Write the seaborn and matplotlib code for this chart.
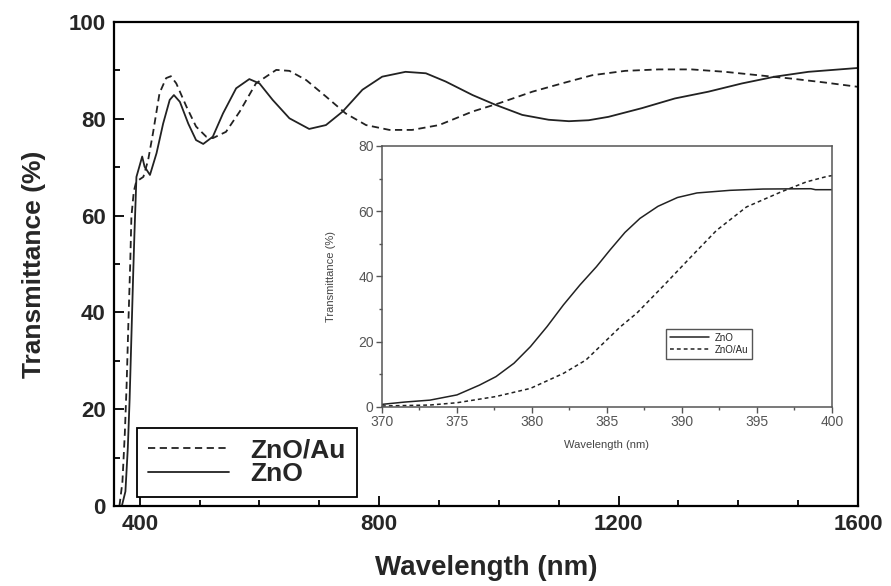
import pandas as pd
import matplotlib.pyplot as plt
import seaborn as sns
from matplotlib.ticker import MultipleLocator

# Main spectrum
zno_wl = [370, 376, 380, 383, 386, 389, 391, 393, 394.4, 399, 404, 408, 417,
          428, 439, 450, 457, 467, 481, 494, 506, 522, 539, 561, 583, 600,
          622, 650, 683, 711, 739, 772, 805, 844, 878, 911, 956, 994, 1039,
          1083, 1117, 1150, 1183, 1239, 1294, 1350, 1406, 1461, 1517, 1600]
zno_t = [0, 3, 12, 22, 35, 48, 56, 63, 68, 70, 72.2, 70.1, 68.4,
         72.9, 79, 83.9, 84.9, 83.5, 79, 75.6, 74.8, 76.3, 81.1, 86.3, 88.2, 87.3,
         83.9, 80.1, 77.9, 78.7, 81.5, 86, 88.7, 89.7, 89.4, 87.7, 84.9, 82.9, 80.8,
         79.8, 79.5, 79.7, 80.4, 82.2, 84.2, 85.6, 87.3, 88.7, 89.7, 90.5]

znoau_wl = [366, 371, 375, 378, 381, 384, 386, 390, 394, 406, 414, 422, 433,
            444, 452, 461, 478, 494, 511, 522, 544, 567, 594, 628, 650, 678,
            711, 744, 778, 817, 855, 900, 956, 1000, 1056, 1111, 1156, 1211,
            1267, 1322, 1378, 1433, 1489, 1544, 1600]
znoau_t = [0, 5, 15, 25, 38, 50, 59.8, 65, 67, 68, 71.5, 77, 85.3,
           88.4, 88.8, 87.3, 82.5, 78.4, 76.3, 76, 77.3, 81.5, 87.3, 90.1, 89.9, 88,
           84.6, 81.1, 78.7, 77.7, 77.7, 78.7, 81.5, 83.2, 85.6, 87.5, 89, 89.9,
           90.2, 90.2, 89.7, 89, 88.3, 87.5, 86.6]

# Inset: absorption edge
in_zno_wl = [370, 371.5, 373.2, 375, 376.5, 377.6, 378.8, 379.9, 381, 382.1,
             383.2, 384.3, 385.2, 386.2, 387.2, 388.4, 389.7, 391, 393.2, 395.4,
             398.6, 398.9, 400]
in_zno_t = [0.8, 1.5, 2.1, 3.7, 6.7, 9.3, 13.4, 18.5, 24.6, 31.3,
            37.4, 43, 48.1, 53.5, 57.8, 61.5, 64.2, 65.6, 66.4, 66.8,
            66.9, 66.6, 66.6]
in_znoau_wl = [370, 373.2, 375, 377.6, 379.9, 382.1, 383.6, 385.9, 387,
               388.8, 390.6, 392.3, 394.3, 396.6, 398.3, 399.7, 400]
in_znoau_t = [0.3, 0.6, 1.3, 3.2, 5.7, 10.3, 14.4, 24.6, 28.8,
              37.3, 46, 54.1, 61.3, 65.9, 69, 70.7, 70.9]

main_df = pd.concat([
    pd.DataFrame({'wl': znoau_wl, 'T': znoau_t, 'sample': 'ZnO/Au'}),
    pd.DataFrame({'wl': zno_wl, 'T': zno_t, 'sample': 'ZnO'}),
])
inset_df = pd.concat([
    pd.DataFrame({'wl': in_zno_wl, 'T': in_zno_t, 'sample': 'ZnO'}),
    pd.DataFrame({'wl': in_znoau_wl, 'T': in_znoau_t, 'sample': 'ZnO/Au'}),
])

sns.set_theme(style="white")
plt.rcParams['font.family'] = ['Liberation Sans', 'DejaVu Sans']

fig = plt.figure(figsize=(8.91, 5.86), dpi=100)
ax = fig.add_axes([0.128, 0.1365, 0.835, 0.826])

line_col = '#222222'
sns.lineplot(data=main_df, x='wl', y='T', style='sample',
             dashes={'ZnO/Au': (4, 2.5), 'ZnO': ''}, color=line_col,
             linewidth=1.3, sort=False, estimator=None, legend=False, ax=ax)

ax.set_xlim(357, 1600)
ax.set_ylim(0, 100)
ax.xaxis.set_major_locator(MultipleLocator(400))
ax.xaxis.set_minor_locator(MultipleLocator(100))
ax.yaxis.set_major_locator(MultipleLocator(20))
ax.yaxis.set_minor_locator(MultipleLocator(10))
ax.tick_params(which='both', direction='in', color='black', width=1.3,
               bottom=True, left=True)
ax.tick_params(which='major', length=7, labelsize=16, pad=6)
ax.tick_params(which='minor', length=4)
for lbl in ax.get_xticklabels() + ax.get_yticklabels():
    lbl.set_fontweight('bold')
for sp in ax.spines.values():
    sp.set_color('black')
    sp.set_linewidth(1.6)

ax.set_xlabel('Wavelength (nm)', fontsize=20, fontweight='bold', labelpad=14)
ax.set_ylabel('Transmittance (%)', fontsize=19, fontweight='bold', labelpad=16)

handles = [plt.Line2D([], [], color=line_col, lw=1.3, dashes=(4, 2.5)),
           plt.Line2D([], [], color=line_col, lw=1.3)]
leg = ax.legend(handles, ['ZnO/Au', 'ZnO'], loc='lower left',
                bbox_to_anchor=(0.031, 0.019), borderaxespad=0,
                prop={'weight': 'bold', 'size': 19},
                handlelength=3.1, handletextpad=0.8, labelspacing=0.0,
                fancybox=False, edgecolor='black', framealpha=1,
                borderpad=0.4)
leg.get_frame().set_linewidth(1.3)

# Inset
axin = fig.add_axes([0.4287, 0.3055, 0.505, 0.4454])
sns.lineplot(data=inset_df, x='wl', y='T', style='sample',
             dashes={'ZnO': '', 'ZnO/Au': (2.5, 2)}, color=line_col,
             linewidth=1.1, sort=False, estimator=None, legend=False, ax=axin)
axin.set_xlim(370, 400)
axin.set_ylim(0, 80)
axin.xaxis.set_major_locator(MultipleLocator(5))
axin.xaxis.set_minor_locator(MultipleLocator(2.5))
axin.yaxis.set_major_locator(MultipleLocator(20))
axin.yaxis.set_minor_locator(MultipleLocator(10))
axin.tick_params(which='both', direction='out', color='#555555', width=1,
                 bottom=True, left=True)
axin.tick_params(which='major', length=4, labelsize=10, labelcolor='#555555', pad=2)
axin.tick_params(which='minor', length=2.5)
for sp in axin.spines.values():
    sp.set_color('#555555')
    sp.set_linewidth(1.1)
axin.set_xlabel('Wavelength (nm)', fontsize=8, color='#444444', labelpad=8)
axin.set_ylabel('Transmittance (%)', fontsize=8, color='#444444', labelpad=16)

in_handles = [plt.Line2D([], [], color=line_col, lw=1.1),
              plt.Line2D([], [], color=line_col, lw=1.1, dashes=(2.5, 2))]
leg2 = axin.legend(in_handles, ['ZnO', 'ZnO/Au'], loc='lower left',
                   bbox_to_anchor=(0.632, 0.185), borderaxespad=0,
                   fontsize=7, handlelength=4, handletextpad=0.6,
                   labelspacing=0.2, fancybox=False, edgecolor='#555555',
                   framealpha=1, borderpad=0.4)
leg2.get_frame().set_linewidth(1.0)

plt.savefig('out.png', dpi=100)
plt.close()
